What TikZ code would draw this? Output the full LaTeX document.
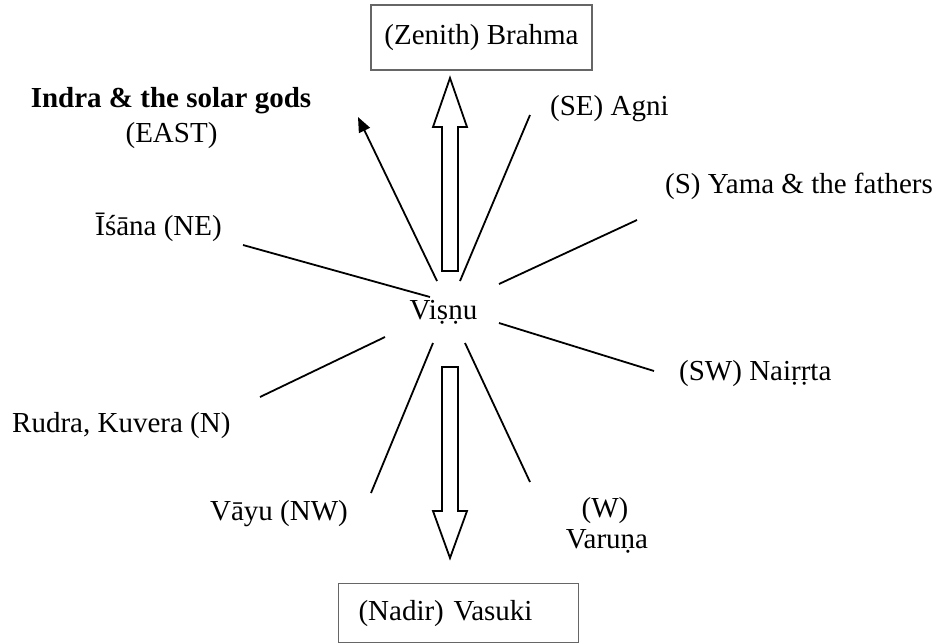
\documentclass[tikz,border=0pt]{standalone}
\usepackage{fontspec}
\setmainfont{Liberation Serif}
\usetikzlibrary{arrows.meta}
\begin{document}
\begin{tikzpicture}[x=1pt,y=-1pt,
  every node/.style={inner sep=0pt, font=\fontsize{29}{31}\selectfont},
  conn/.style={line width=1.8pt},
  godbox/.style={draw=black!60, line width=1.1pt},
  hollow/.style={draw=black, line width=1.8pt, fill=white, line join=miter}]
\useasboundingbox (0,0) rectangle (939,643);

% boxes
\node[godbox, minimum width=221pt, minimum height=65pt] (zenith) at (481.5,37.5) {(Zenith) Brahma};
\node[godbox, anchor=north west, minimum width=240pt, minimum height=59pt,
      text width=200pt, align=left, inner xsep=20pt] (nadir) at (338,583) {(Nadir) Vasuki};

% labels
\node[anchor=base] (indra) at (171,107) {\textbf{Indra \& the solar gods}};
\node[anchor=base] (east) at (171.5,142) {(EAST)};
\node[anchor=base east] (isana) at (222,235) {Īśāna (NE)};
\node[anchor=base west] (agni) at (550,115) {(SE) Agni};
\node[anchor=base west] (yama) at (665,193) {(S) Yama \& the fathers};
\node[anchor=base] (visnu) at (443.5,319) {Viṣṇu};
\node[anchor=base west] (nairrta) at (679,380) {(SW) Naiṛṛta};
\node[anchor=base] (w) at (605,517) {(W)};
\node[anchor=base] (varuna) at (607,548) {Varuṇa};
\node[anchor=base west] (rudra) at (12,432) {Rudra, Kuvera (N)};
\node[anchor=base east] (vayu) at (348,520) {Vāyu (NW)};

% line end points
\coordinate (inS) at (437,281);  \coordinate (inE) at (358,117);
\coordinate (agS) at (460,281);  \coordinate (agE) at (530,115);
\coordinate (yaS) at (499,284);  \coordinate (yaE) at (637,220);
\coordinate (isS) at (430,297);  \coordinate (isE) at (243,245);
\coordinate (naS) at (499,323);  \coordinate (naE) at (654,371);
\coordinate (ruS) at (385,337);  \coordinate (ruE) at (260,397);
\coordinate (vaS) at (433,343);  \coordinate (vaE) at (371,493);
\coordinate (wS)  at (465,343);  \coordinate (wE)  at (530,482);

\draw[conn, -{Triangle[length=15pt,width=12pt]}] (inS) -- (inE);
\draw[conn] (agS) -- (agE);
\draw[conn] (yaS) -- (yaE);
\draw[conn] (isS) -- (isE);
\draw[conn] (naS) -- (naE);
\draw[conn] (ruS) -- (ruE);
\draw[conn] (vaS) -- (vaE);
\draw[conn] (wS) -- (wE);

% hollow arrows
\draw[hollow] (442,271) -- (442,127) -- (433,127) -- (450,78) -- (467,127) -- (458,127) -- (458,271) -- cycle;
\draw[hollow] (442,367) -- (442,511) -- (433,511) -- (450,558) -- (467,511) -- (458,511) -- (458,367) -- cycle;
\end{tikzpicture}
\end{document}
